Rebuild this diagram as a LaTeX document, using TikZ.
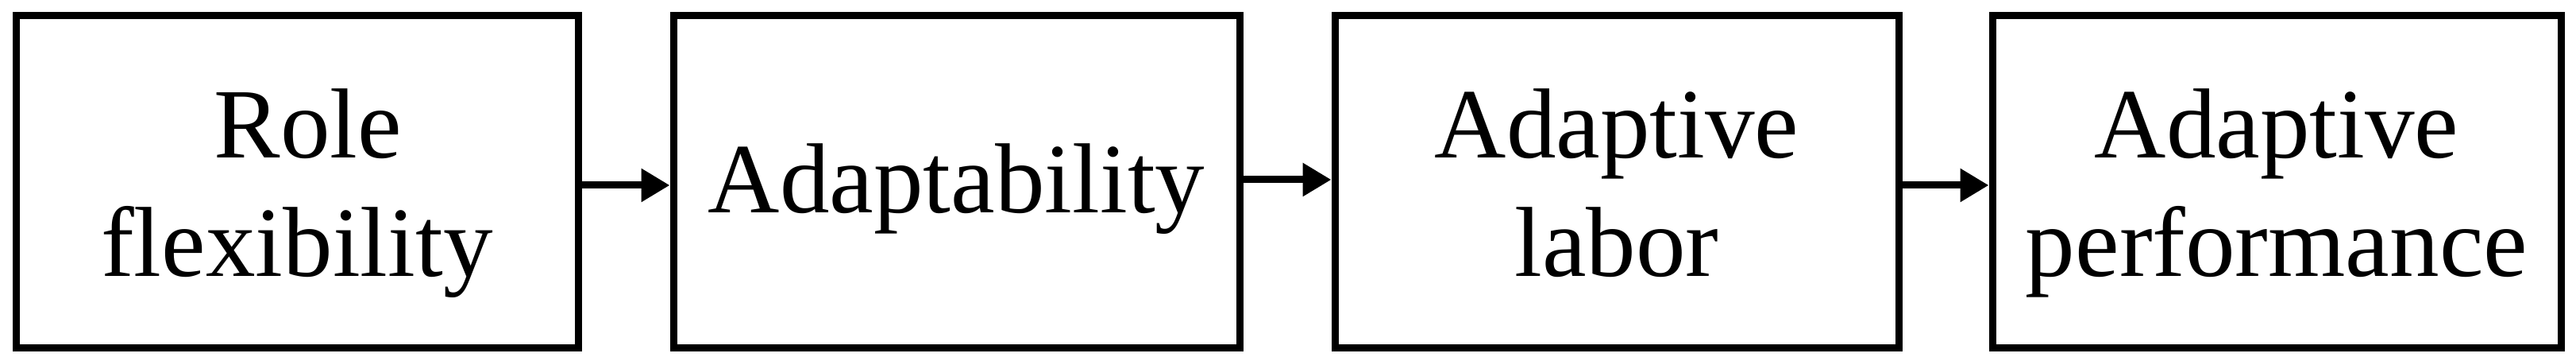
\documentclass[tikz,border=0pt]{standalone}
\usepackage{fontspec}
\setmainfont{Liberation Serif}
\usetikzlibrary{arrows.meta}
\begin{document}
\begin{tikzpicture}[
  stagebox/.style={draw=black, line width=0.09cm, minimum height=4.18cm, inner sep=0pt},
  stagetext/.style={align=center, inner sep=0pt, anchor=base, font=\fontsize{35.6}{42.4}\selectfont},
  flowarrow/.style={line width=0.09cm, -{Triangle[length=0.36cm,width=0.40cm]}}
]
\useasboundingbox (0,0) rectangle (32.44,4.54);
\node[stagebox, minimum width=7.08cm] (b1) at (3.74,2.25) {};
\node[stagebox, minimum width=7.13cm] (b2) at (12.045,2.25) {};
\node[stagebox, minimum width=7.10cm] (b3) at (20.36,2.25) {};
\node[stagebox, minimum width=7.16cm] (b4) at (28.67,2.25) {};
\node[stagetext, yshift=-1.19cm] (t1) at (b1.center) {\hspace*{0.28cm}Role\\flexibility};
\node[stagetext, yshift=-0.39cm] (t2) at (b2.center) {Adaptability};
\node[stagetext, yshift=-1.19cm] (t3) at (b3.center) {Adaptive\\labor};
\node[stagetext, yshift=-1.19cm] (t4) at (b4.center) {Adaptive\\performance};
\draw[flowarrow] ([yshift=-0.04cm]b1.east) -- ([yshift=-0.04cm]b2.west);
\draw[flowarrow] ([yshift=0.03cm]b2.east) -- ([yshift=0.03cm]b3.west);
\draw[flowarrow] ([yshift=-0.04cm]b3.east) -- ([yshift=-0.04cm]b4.west);
\end{tikzpicture}
\end{document}
